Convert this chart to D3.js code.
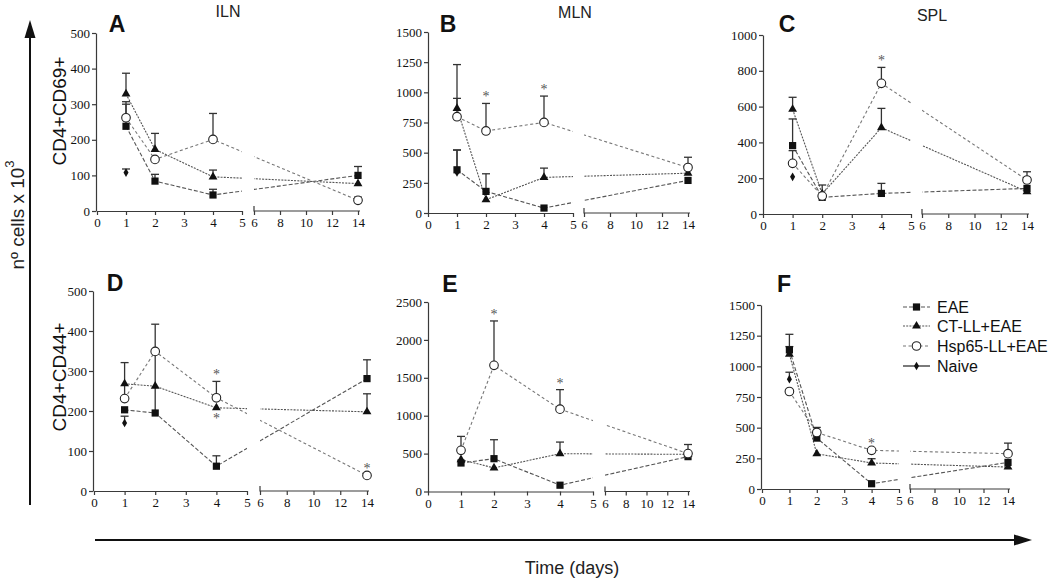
<!DOCTYPE html>
<html><head><meta charset="utf-8">
<script src="https://cdn.jsdelivr.net/npm/d3@7"></script>
<style>body{margin:0;background:#fff} svg{display:block}</style>
</head><body>
<svg id="c" width="1050" height="581"></svg>
<script>
// ---------------- DATA ----------------
const days = [1, 2, 4, 14];
const seriesNames = ["EAE", "CT-LL+EAE", "Hsp65-LL+EAE", "Naive"];
const organs = ["ILN", "MLN", "SPL"];
const rowLabels = ["CD4+CD69+", "CD4+CD44+"];
const panelIds = ["A", "B", "C", "D", "E", "F"];
const xTicksLeft = [0, 1, 2, 3, 4, 5];
const xTicksRight = [6, 8, 10, 12, 14];

const yTicksA = [0, 100, 200, 300, 400, 500];
const yTicksB = [0, 250, 500, 750, 1000, 1250, 1500];
const yTicksC = [0, 200, 400, 600, 800, 1000];
const yTicksD = [0, 100, 200, 300, 400, 500];
const yTicksE = [0, 500, 1000, 1500, 2000, 2500];
const yTicksF = [0, 250, 500, 750, 1000, 1250, 1500];

// Panel A (ILN, CD4+CD69+)
const eaeA = [238, 84, 45, 100],   eaeErrA = [62, 19, 16, 25];
const ctA  = [329, 173, 96, 77],   ctErrA  = [58, 45, 19, 0];
const hspA = [262, 145, 201, 30],  hspErrA = [45, 0, 73, 9];
const naiveA = 108, naiveErrA = 10;
const starsA = [];
// Panel B (MLN, CD4+CD69+)
const eaeB = [358, 179, 41, 270],  eaeErrB = [165, 146, 0, 0];
const ctB  = [867, 110, 295, 330], ctErrB  = [363, 0, 77, 0];
const hspB = [798, 680, 751, 377], hspErrB = [152, 228, 218, 85];
const naiveB = 336, naiveErrB = 185;
const starsB = [["Hsp65-LL+EAE", 2, "above"], ["Hsp65-LL+EAE", 4, "above"]];
// Panel C (SPL, CD4+CD69+)
const eaeC = [382, 93, 115, 143],  eaeErrC = [149, 0, 56, 0];
const ctC  = [585, 112, 482, 125], ctErrC  = [67, 50, 108, 0];
const hspC = [283, 100, 730, 190], hspErrC = [71, 0, 89, 46];
const naiveC = 208, naiveErrC = 0;
const starsC = [["Hsp65-LL+EAE", 4, "above"]];
// Panel D (ILN, CD4+CD44+)
const eaeD = [203, 195, 62, 281],  eaeErrD = [0, 222, 26, 47];
const ctD  = [268, 262, 208, 198], ctErrD  = [0, 0, 0, 45];
const hspD = [231, 349, 233, 39],  hspErrD = [90, 0, 41, 0];
const naiveD = 170, naiveErrD = 17;
const starsD = [["Hsp65-LL+EAE", 4, "above"], ["CT-LL+EAE", 4, "below"], ["Hsp65-LL+EAE", 14, "above"]];
// Panel E (MLN, CD4+CD44+)
const eaeE = [376, 433, 83, 460],  eaeErrE = [0, 250, 0, 0];
const ctE  = [420, 311, 499, 490], ctErrE  = [0, 0, 153, 0];
const hspE = [543, 1664, 1086, 500], hspErrE = [184, 586, 258, 120];
const naiveE = 400, naiveErrE = 0;
const starsE = [["Hsp65-LL+EAE", 2, "above"], ["Hsp65-LL+EAE", 4, "above"]];
// Panel F (SPL, CD4+CD44+)
const eaeF = [1134, 415, 43, 217], eaeErrF = [127, 0, 0, 0];
const ctF  = [1098, 287, 212, 179], ctErrF = [63, 0, 35, 0];
const hspF = [795, 461, 315, 288], hspErrF = [0, 41, 0, 86];
const naiveF = 895, naiveErrF = 57;
const starsF = [["Hsp65-LL+EAE", 4, "above"]];

// ---------------- LAYOUT ----------------
const layout = {
  A: {ax: 96,  x0: 97,  x5: 242, x6: 254, x14: 358,  yb: 211,   yt: 33,  lx: 117, ly: 32},
  B: {ax: 428, x0: 428, x5: 573, x6: 584, x14: 688,  yb: 213,   yt: 32,  lx: 448, ly: 32},
  C: {ax: 763, x0: 763, x5: 911, x6: 922, x14: 1027, yb: 214,   yt: 35,  lx: 787, ly: 32},
  D: {ax: 93,  x0: 94,  x5: 247, x6: 260, x14: 367,  yb: 491,   yt: 291, lx: 115, ly: 291},
  E: {ax: 428, x0: 428, x5: 593, x6: 605, x14: 688,  yb: 491.5, yt: 302, lx: 450, ly: 292},
  F: {ax: 761, x0: 762, x5: 899, x6: 910, x14: 1008, yb: 489,   yt: 305, lx: 784, ly: 292}
};
const titlePos = [[228, 17], [575, 18], [932, 21]];
const rowLabelPos = [[59, 111], [59, 377]];

const panelData = {
  A: {yTicks: yTicksA, s: [[eaeA, eaeErrA], [ctA, ctErrA], [hspA, hspErrA]], naive: [naiveA, naiveErrA], stars: starsA},
  B: {yTicks: yTicksB, s: [[eaeB, eaeErrB], [ctB, ctErrB], [hspB, hspErrB]], naive: [naiveB, naiveErrB], stars: starsB},
  C: {yTicks: yTicksC, s: [[eaeC, eaeErrC], [ctC, ctErrC], [hspC, hspErrC]], naive: [naiveC, naiveErrC], stars: starsC},
  D: {yTicks: yTicksD, s: [[eaeD, eaeErrD], [ctD, ctErrD], [hspD, hspErrD]], naive: [naiveD, naiveErrD], stars: starsD},
  E: {yTicks: yTicksE, s: [[eaeE, eaeErrE], [ctE, ctErrE], [hspE, hspErrE]], naive: [naiveE, naiveErrE], stars: starsE},
  F: {yTicks: yTicksF, s: [[eaeF, eaeErrF], [ctF, ctErrF], [hspF, hspErrF]], naive: [naiveF, naiveErrF], stars: starsF}
};

const dashes = ["4,2", "2,1.2", "3,2.5", null];
const lineColors = ["#555", "#555", "#777", "#222"];
const axisColor = "#3a3a3a";
const tickFont = "Liberation Serif, DejaVu Serif, serif";
const sansFont = "Liberation Sans, Arial, sans-serif";

const svg = d3.select("#c");
const defs = svg.append("defs");

function marker(g, type, x, y) {
  if (type === 0) {
    g.append("rect").attr("x", x - 3.6).attr("y", y - 3.6).attr("width", 7.2).attr("height", 7.2).attr("fill", "#111");
  } else if (type === 1) {
    const sym = d3.symbol().type(d3.symbolTriangle).size(34);
    g.append("path").attr("d", sym()).attr("transform", `translate(${x},${y})`).attr("fill", "#111");
  } else if (type === 2) {
    g.append("circle").attr("cx", x).attr("cy", y).attr("r", 4.3).attr("fill", "#fff").attr("stroke", "#222").attr("stroke-width", 1.1);
  } else {
    const sym = d3.symbol().type(d3.symbolDiamond).size(22);
    g.append("path").attr("d", sym()).attr("transform", `translate(${x},${y})`).attr("fill", "#111");
  }
}

function errBar(g, x, y0, y1) {
  g.append("line").attr("x1", x).attr("x2", x).attr("y1", y0).attr("y2", y1).attr("stroke", "#333").attr("stroke-width", 1.3);
  g.append("line").attr("x1", x - 4).attr("x2", x + 4).attr("y1", y1).attr("y2", y1).attr("stroke", "#333").attr("stroke-width", 1.3);
}

const fmt = d => String(d);

panelIds.forEach((id, pi) => {
  const L = layout[id], P = panelData[id];
  const yMax = P.yTicks[P.yTicks.length - 1];
  const y = d3.scaleLinear().domain([0, yMax]).range([L.yb, L.yt]);
  const xl = d3.scaleLinear().domain([0, 5]).range([L.x0, L.x5]);
  const xr = d3.scaleLinear().domain([6, 14]).range([L.x6, L.x14]);
  const px = d => d <= 5 ? xl(d) : xr(d);
  const g = svg.append("g");

  // clip out the axis break
  const cid = "clip" + id;
  const cp = defs.append("clipPath").attr("id", cid);
  cp.append("rect").attr("x", L.ax - 10).attr("y", 0).attr("width", L.x5 - L.ax + 10).attr("height", 581);
  cp.append("rect").attr("x", L.x6).attr("y", 0).attr("width", 1050 - L.x6).attr("height", 581);

  // y axis
  const ya = g.append("g").attr("transform", `translate(${L.ax},0)`)
    .call(d3.axisLeft(y).tickValues(P.yTicks).tickFormat(fmt).tickSize(4).tickSizeOuter(0).tickPadding(2));
  // x axes
  const xa1 = g.append("g").attr("transform", `translate(0,${L.yb})`)
    .call(d3.axisBottom(xl).tickValues(xTicksLeft).tickFormat(fmt).tickSize(4).tickSizeOuter(0).tickPadding(3));
  const xa2 = g.append("g").attr("transform", `translate(0,${L.yb})`)
    .call(d3.axisBottom(xr).tickValues(xTicksRight).tickFormat(fmt).tickSize(4).tickSizeOuter(0).tickPadding(3));
  xa2.select(".domain").attr("d", `M${L.x6},-5V0H${L.x14 + 2}`);
  [ya, xa1, xa2].forEach(a => {
    a.attr("font-family", null).attr("font-size", null);
    a.selectAll("path,line").attr("stroke", axisColor).attr("stroke-width", 1.2);
    a.selectAll("text").style("font-family", tickFont).style("font-size", "13px").attr("fill", "#111");
  });

  // lines
  const lg = g.append("g").attr("clip-path", `url(#${cid})`);
  const line = d3.line().x(d => px(d[0])).y(d => y(d[1]));
  P.s.forEach((s, si) => {
    lg.append("path").datum(days.map((d, i) => [d, s[0][i]]))
      .attr("d", line).attr("fill", "none").attr("stroke", lineColors[si])
      .attr("stroke-width", 1.1).attr("stroke-dasharray", dashes[si]);
  });

  // error bars
  P.s.forEach((s, si) => {
    days.forEach((d, i) => {
      if (s[1][i] > 0) errBar(g, px(d), y(s[0][i]), y(s[0][i] + s[1][i]));
    });
  });
  if (P.naive[1] > 0) errBar(g, px(1), y(P.naive[0]), y(P.naive[0] + P.naive[1]));

  // markers (naive first, then EAE, CT, Hsp)
  marker(g, 3, px(1), y(P.naive[0]));
  P.s.forEach((s, si) => days.forEach((d, i) => marker(g, si, px(d), y(s[0][i]))));

  // asterisks
  P.stars.forEach(st => {
    const si = seriesNames.indexOf(st[0]);
    const i = days.indexOf(st[1]);
    const v = P.s[si][0][i], e = P.s[si][1][i];
    const yy = st[2] === "above" ? y(v + e) - 2 : y(v) + 15;
    g.append("text").attr("x", px(st[1])).attr("y", yy).attr("text-anchor", "middle")
      .style("font-family", tickFont).style("font-size", "14px").style("fill", "#555").text("*");
  });

  // panel letter
  svg.append("text").attr("x", L.lx).attr("y", L.ly).attr("text-anchor", "middle")
    .style("font-family", sansFont).style("font-weight", "bold").style("font-size", "23px").style("fill", "#111").text(id);
});

// organ titles
organs.forEach((o, i) => {
  svg.append("text").attr("x", titlePos[i][0]).attr("y", titlePos[i][1]).attr("text-anchor", "middle")
    .style("font-family", sansFont).style("font-size", "16px").style("fill", "#222").text(o);
});
// row labels
rowLabels.forEach((r, i) => {
  svg.append("text").attr("transform", `translate(${rowLabelPos[i][0]},${rowLabelPos[i][1]}) rotate(-90)`)
    .attr("text-anchor", "middle").attr("dominant-baseline", "central")
    .style("font-family", sansFont).style("font-size", "19px").style("fill", "#111").text(r);
});

// big arrows
svg.append("line").attr("x1", 30).attr("x2", 30).attr("y1", 505).attr("y2", 36).attr("stroke", "#111").attr("stroke-width", 2);
svg.append("path").attr("d", "M30,20 L24.5,38 L35.5,38 Z").attr("fill", "#111");
svg.append("line").attr("x1", 95).attr("x2", 1015).attr("y1", 540).attr("y2", 540).attr("stroke", "#111").attr("stroke-width", 2);
svg.append("path").attr("d", "M1032,540 L1014,534.5 L1014,545.5 Z").attr("fill", "#111");

const yl = svg.append("text").attr("transform", "translate(17,215) rotate(-90)")
  .attr("text-anchor", "middle").attr("dominant-baseline", "central")
  .style("font-family", sansFont).style("font-size", "19px").style("fill", "#222");
yl.append("tspan").text("nº cells x 10");
yl.append("tspan").attr("dy", -8).style("font-size", "13px").text("3");

svg.append("text").attr("x", 572).attr("y", 574).attr("text-anchor", "middle")
  .style("font-family", sansFont).style("font-size", "18px").style("fill", "#222").text("Time (days)");

// legend (panel F)
const legY = [307, 326, 346, 366];
const leg = svg.append("g");
seriesNames.forEach((n, i) => {
  leg.append("line").attr("x1", 903).attr("x2", 930).attr("y1", legY[i]).attr("y2", legY[i])
    .attr("stroke", lineColors[i]).attr("stroke-width", 1.2).attr("stroke-dasharray", dashes[i]);
  marker(leg, i, 916.5, legY[i]);
  leg.append("text").attr("x", 937).attr("y", legY[i]).attr("dominant-baseline", "central")
    .style("font-family", sansFont).style("font-size", "16px").style("fill", "#111").text(n);
});
</script>
</body></html>
